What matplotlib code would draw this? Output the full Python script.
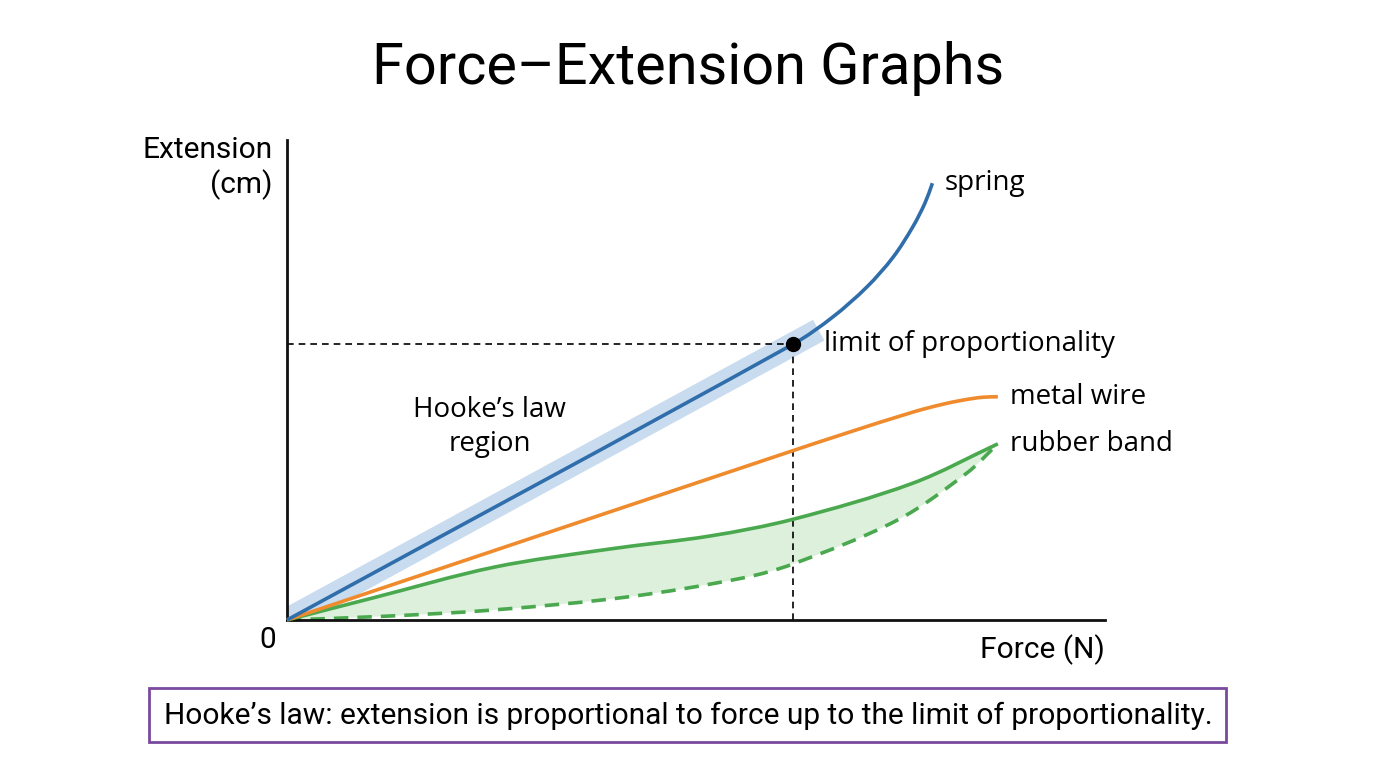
import numpy as np
import matplotlib.pyplot as plt
from matplotlib.patches import Rectangle, PathPatch
from matplotlib.path import Path

plt.rcParams['font.family'] = ['Roboto', 'DejaVu Sans']

# values (force and extension in arbitrary units)
spring_force = [0, 6.19, 6.67, 7.09, 7.41, 7.65, 7.80, 7.89]
spring_ext = [0, 5.75, 6.31, 6.94, 7.56, 8.19, 8.69, 9.10]

wire_force = [0, 6.03, 6.85, 7.65, 7.98, 8.26, 8.50, 8.69]
wire_ext = [0, 3.44, 3.90, 4.33, 4.48, 4.58, 4.64, 4.65]

rubber_load_force = [0, 1.05, 2.53, 3.95, 5.17, 6.19, 7.65, 8.69]
rubber_load_ext = [0, 0.46, 1.10, 1.48, 1.75, 2.10, 2.85, 3.67]

rubber_unload_force = [0, 1.22, 2.53, 4.16, 5.57, 6.19, 7.46, 8.31, 8.69]
rubber_unload_ext = [0, 0.08, 0.21, 0.48, 0.875, 1.17, 2.08, 3.06, 3.67]

limit_force, limit_ext = 6.19, 5.75
hooke_end = 6.5

BLUE = '#2f6eab'
ORANGE = '#ef8b2c'
GREEN = '#4aa94e'
LW = 2.6


def smooth_path(xs, ys, aspect):
    """Bezier path through the points (tangents from neighbouring points)."""
    p = np.column_stack([xs, ys]).astype(float)
    q = p * [1.0, aspect]  # screen-like coords so tangents are isotropic
    seg = np.hypot(*np.diff(q, axis=0).T)
    n = len(p)
    m = np.zeros_like(p)
    m[0] = (p[1] - p[0]) / seg[0]
    m[-1] = (p[-1] - p[-2]) / seg[-1]
    for i in range(1, n - 1):
        m[i] = (p[i + 1] - p[i - 1]) / (seg[i - 1] + seg[i])
    verts = [p[0]]
    codes = [Path.MOVETO]
    for i in range(n - 1):
        verts += [p[i] + m[i] * seg[i] / 3, p[i + 1] - m[i + 1] * seg[i] / 3, p[i + 1]]
        codes += [Path.CURVE4] * 3
    return np.array(verts), codes


fig = plt.figure(figsize=(13.76, 7.68), dpi=100)
ax = fig.add_axes([287 / 1376, 148 / 768, 818 / 1376, 480 / 768])
ax.set_xlim(0, 10)
ax.set_ylim(0, 10)
for side in ['top', 'right']:
    ax.spines[side].set_visible(False)
for side in ['left', 'bottom']:
    ax.spines[side].set_linewidth(2)
    ax.spines[side].set_color('#111111')
ax.set_xticks([])
ax.set_yticks([])
aspect = 48 / 81.8  # pixel size of a y unit relative to an x unit


def curve(xs, ys, **kw):
    v, c = smooth_path(xs, ys, aspect)
    ax.add_patch(PathPatch(Path(v, c), fill=False, clip_on=False, **kw))


# Hooke's law band along the linear part of the spring
k = limit_ext / limit_force
ax.plot([-0.3, hooke_end], [-0.3 * k, hooke_end * k], lw=17, color='#c8dbef',
        solid_capstyle='butt', zorder=1)

# rubber band hysteresis loop
v1, c1 = smooth_path(rubber_load_force, rubber_load_ext, aspect)
v2, c2 = smooth_path(rubber_unload_force[::-1], rubber_unload_ext[::-1], aspect)
loop = Path(np.vstack([v1, v2, v1[:1]]), c1 + [Path.LINETO] + c2[1:] + [Path.CLOSEPOLY])
ax.add_patch(PathPatch(loop, facecolor='#dcf0dc', lw=0, zorder=1))
curve(rubber_unload_force, rubber_unload_ext, edgecolor=GREEN, lw=LW,
      ls=(0, (4, 2.5)), zorder=2)
curve(rubber_load_force, rubber_load_ext, edgecolor=GREEN, lw=LW, zorder=3)

curve(wire_force, wire_ext, edgecolor=ORANGE, lw=LW, zorder=3)
curve(spring_force, spring_ext, edgecolor=BLUE, lw=LW, zorder=4)

# limit of proportionality guides
ax.plot([0, limit_force], [limit_ext, limit_ext], color='black', lw=1.2, ls=(0, (4, 3)), zorder=2)
ax.plot([limit_force, limit_force], [0, limit_ext], color='black', lw=1.2, ls=(0, (4, 3)), zorder=2)
ax.plot(limit_force, limit_ext, 'o', color='black', ms=10, zorder=5)

lab = dict(fontsize=20, family=['Open Sans', 'DejaVu Sans'])
ax.annotate('limit of proportionality', (limit_force, limit_ext), xytext=(22, 0),
            textcoords='offset points', va='center', **lab)
ax.annotate('spring', (spring_force[-1], spring_ext[-1]), xytext=(9, 0),
            textcoords='offset points', va='center', **lab)
ax.annotate('metal wire', (wire_force[-1], wire_ext[-1]), xytext=(9, 0),
            textcoords='offset points', va='center', **lab)
ax.annotate('rubber band', (rubber_load_force[-1], rubber_load_ext[-1]), xytext=(9, 0),
            textcoords='offset points', va='center', **lab)
ax.text(2.48, 4.02, 'Hooke\u2019s law\nregion', ha='center', va='center',
        linespacing=1.25, **lab)

fig.text(0.5, 1 - 68 / 768, 'Force\u2013Extension Graphs', ha='center', va='center', fontsize=41.5)
fig.text(273 / 1376, 1 - 168 / 768, 'Extension\n(cm)', ha='right', va='center',
         fontsize=21.5, multialignment='right', linespacing=1.2)
fig.text(268 / 1376, 1 - 640 / 768, '0', ha='center', va='center', fontsize=21.5)
fig.text(1105 / 1376, 1 - 650 / 768, 'Force (N)', ha='right', va='center', fontsize=21.5)

fig.patches.append(Rectangle((149 / 1376, 1 - 742 / 768), 1077 / 1376, 54 / 768,
                             transform=fig.transFigure, fill=False,
                             edgecolor='#7a4a9e', lw=2))
fig.text(0.5, 1 - 716 / 768,
         'Hooke\u2019s law: extension is proportional to force up to the limit of proportionality.',
         ha='center', va='center', fontsize=21.5)

fig.savefig('out.png', dpi=100)
